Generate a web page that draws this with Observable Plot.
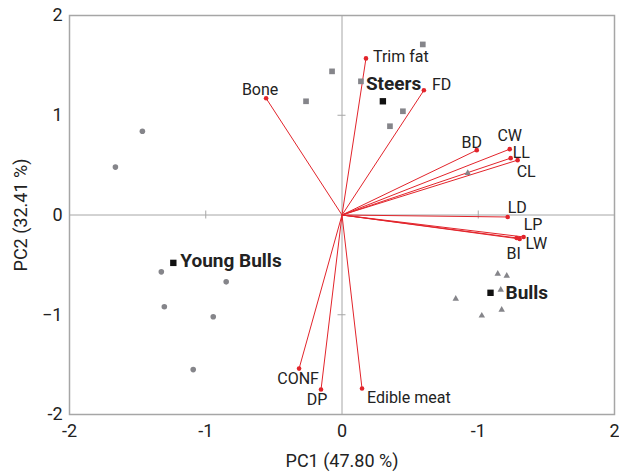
<!DOCTYPE html>
<html><head><meta charset="utf-8">
<script src="https://cdn.jsdelivr.net/npm/d3@7"></script>
<script src="https://cdn.jsdelivr.net/npm/@observablehq/plot@0.6"></script>
<style>
body{margin:0;background:#fff;}
</style></head><body><div id="chart"></div>
<script>
// Axis ticks and labels (as printed in the reference)
const xTicks = [-2, -1, 0, 1, 2];
const xTickLabels = ["-2", "-1", "0", "-1", "2"];
const yTicks = [-2, -1, 0, 1, 2];
const yTickLabels = ["-2", "\u22121", "0", "1", "2"];
const xTitle = "PC1 (47.80 %)";
const yTitle = "PC2 (32.41 %)";

// Variable loadings
const varNames = ["Trim fat", "FD", "Bone", "BD", "CW", "LL", "CL", "LD", "LP", "LW", "BI", "CONF", "DP", "Edible meat"];
const varPC1 = [0.176, 0.601, -0.557, 0.989, 1.231, 1.238, 1.289, 1.216, 1.282, 1.333, 1.304, -0.315, -0.154, 0.147];
const varPC2 = [1.57, 1.25, 1.17, 0.65, 0.66, 0.57, 0.55, -0.02, -0.23, -0.22, -0.24, -1.54, -1.75, -1.74];

// Individual scores
const steersPC1 = [0.593, -0.073, -0.264, 0.139, 0.447, 0.352];
const steersPC2 = [1.71, 1.44, 1.14, 1.34, 1.04, 0.89];
const youngPC1 = [-1.465, -1.663, -1.326, -0.85, -1.304, -0.945, -1.092];
const youngPC2 = [0.84, 0.48, -0.57, -0.67, -0.92, -1.02, -1.55];
const bullsPC1 = [0.923, 1.143, 1.209, 1.165, 0.835, 1.172, 1.026];
const bullsPC2 = [0.42, -0.59, -0.61, -0.75, -0.84, -0.95, -1.01];

// Group centroids
const groupNames = ["Steers", "Young Bulls", "Bulls"];
const groupPC1 = [0.30, -1.238, 1.09];
const groupPC2 = [1.14, -0.48, -0.78];

const vars = varNames.map((n, i) => ({name: n, x: varPC1[i], y: varPC2[i]}));
const steers = steersPC1.map((x, i) => ({x, y: steersPC2[i]}));
const young = youngPC1.map((x, i) => ({x, y: youngPC2[i]}));
const bulls = bullsPC1.map((x, i) => ({x, y: bullsPC2[i]}));
const groups = groupNames.map((n, i) => ({name: n, x: groupPC1[i], y: groupPC2[i]}));

// label placement (styling)
const place = {
  "Trim fat": {a: "start", dx: 7, dy: -2},
  "FD": {a: "start", dx: 8, dy: -5},
  "Bone": {a: "middle", dx: -6, dy: -8},
  "BD": {a: "middle", dx: -5, dy: -7},
  "CW": {a: "middle", dx: 0, dy: -13},
  "LL": {a: "start", dx: 2, dy: -5},
  "CL": {a: "start", dx: -1, dy: 12},
  "LD": {a: "start", dx: 0, dy: -9},
  "LP": {a: "start", dx: 7, dy: -13},
  "LW": {a: "start", dx: 2, dy: 7},
  "BI": {a: "middle", dx: -6, dy: 15},
  "CONF": {a: "middle", dx: -1, dy: 10},
  "DP": {a: "middle", dx: -4, dy: 10},
  "Edible meat": {a: "start", dx: 5, dy: 9}
};
const gplace = {
  "Steers": {a: "start", dx: -17, dy: -17},
  "Young Bulls": {a: "start", dx: 7, dy: -2},
  "Bulls": {a: "start", dx: 15, dy: 0}
};

const FONT = "Roboto, 'Liberation Sans', sans-serif";
const RED = "#e2242b";
const GRAY = "#85858a";
const AX = "#a6a6a6";

const varText = Object.keys(place).map(k => {
  const p = place[k];
  return Plot.text(vars.filter(d => d.name === k), {x: "x", y: "y", text: "name", textAnchor: p.a, dx: p.dx, dy: p.dy, fontSize: 16, fill: "#222"});
});
const grpText = groupNames.map(k => {
  const p = gplace[k];
  return Plot.text(groups.filter(d => d.name === k), {x: "x", y: "y", text: "name", textAnchor: p.a, dx: p.dx, dy: p.dy, fontSize: 19, fontWeight: "bold", fill: "#222"});
});

const chart = Plot.plot({
  width: 619,
  height: 472,
  marginLeft: 69,
  marginRight: 5,
  marginTop: 15,
  marginBottom: 58,
  style: {fontFamily: FONT, fontSize: "18px", color: "#222", background: "#fff"},
  x: {type: "linear", domain: [-2, 2]},
  y: {type: "linear", domain: [-2, 2]},
  marks: [
    Plot.ruleX([0], {stroke: AX, strokeWidth: 1}),
    Plot.ruleY([0], {stroke: AX, strokeWidth: 1}),
    Plot.ruleX([-1, 1], {x: d => d, y1: 0, y2: 0, stroke: AX, strokeWidth: 1, insetTop: -4, insetBottom: -4}),
    Plot.ruleY([-1, 1], {y: d => d, x1: 0, x2: 0, stroke: AX, strokeWidth: 1, insetLeft: -4, insetRight: -4}),
    Plot.frame({stroke: AX, strokeWidth: 1.5}),
    Plot.axisX({ticks: xTicks, tickFormat: d => xTickLabels[xTicks.indexOf(d)], tickSize: 0, tickPadding: 10, label: null, fontSize: 18}),
    Plot.axisY({ticks: yTicks, tickFormat: d => yTickLabels[yTicks.indexOf(d)], tickSize: 0, tickPadding: 7, label: null, fontSize: 18}),
    Plot.text([xTitle], {x: () => 0, text: d => d, frameAnchor: "bottom", textAnchor: "middle", lineAnchor: "middle", dy: 47, fontSize: 18, fill: "#222"}),
    Plot.text([yTitle], {y: () => 0, text: d => d, frameAnchor: "left", textAnchor: "middle", lineAnchor: "middle", dx: -48, rotate: -90, fontSize: 18, fill: "#222"}),
    Plot.link(vars, {x1: 0, y1: 0, x2: "x", y2: "y", stroke: RED, strokeWidth: 1}),
    Plot.dot(vars, {x: "x", y: "y", r: 2.3, fill: RED}),
    Plot.dot(steers, {x: "x", y: "y", symbol: "square", r: 3.2, fill: GRAY}),
    Plot.dot(young, {x: "x", y: "y", symbol: "circle", r: 2.8, fill: GRAY}),
    Plot.dot(bulls, {x: "x", y: "y", symbol: "triangle", r: 2.4, fill: GRAY}),
    Plot.dot(groups, {x: "x", y: "y", symbol: "square", r: 3.6, fill: "#111"}),
    ...varText,
    ...grpText
  ]
});
document.getElementById("chart").appendChild(chart);
</script>
</body></html>
